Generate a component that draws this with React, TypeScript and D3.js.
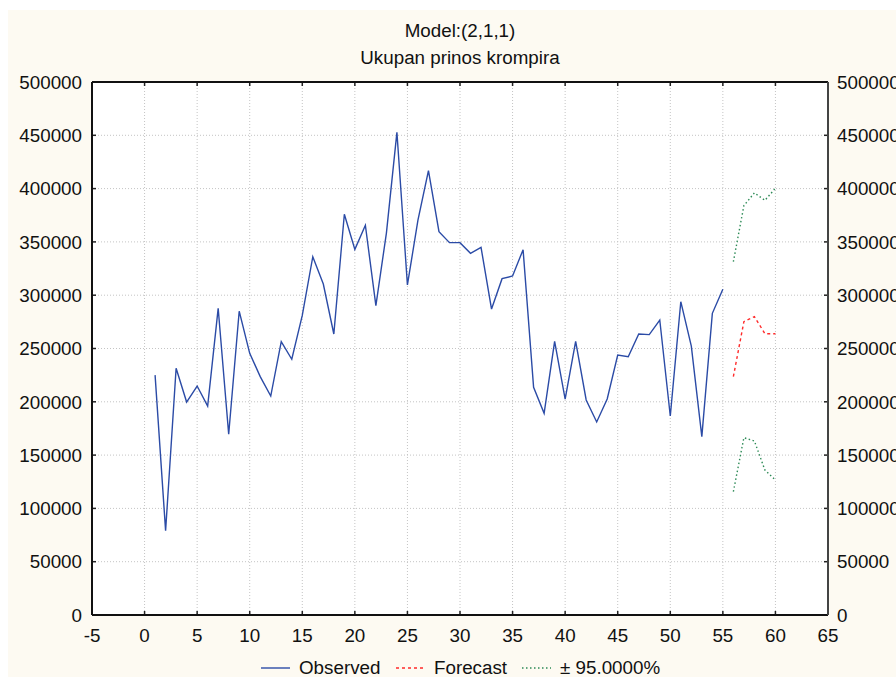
import React from 'react';
import * as d3 from 'd3';

// observed yield, periods 1..55
const observed = [
  225000, 79000, 231400, 199800, 214800, 196000, 287700, 169500, 285000, 245500,
  223600, 205400, 256400, 239900, 281000, 336100, 310500, 263600, 375900, 343000,
  365600, 290200, 358300, 452800, 309600, 370500, 416800, 359600, 349300, 349300,
  339300, 344900, 287000, 315500, 318000, 342700, 213600, 189200, 256700, 202600,
  256700, 201700, 181100, 202600, 243900, 242300, 263600, 263000, 276700, 186700,
  293900, 252300, 167300, 283000, 305500,
];
const forecastX = [56, 57, 58, 59, 60];
const forecast = [223600, 275200, 279900, 263900, 263900];
const upper95 = [331400, 384000, 396000, 389000, 400300];
const lower95 = [115700, 166300, 163200, 136000, 126600];

const xTicks = [-5, 0, 5, 10, 15, 20, 25, 30, 35, 40, 45, 50, 55, 60, 65];
const yTicks = [0, 50000, 100000, 150000, 200000, 250000, 300000, 350000, 400000, 450000, 500000];

const titleLines = ['Model:(2,1,1)', 'Ukupan prinos krompira'];
const legendItems = [
  { label: 'Observed', color: '#2b4ba6', dash: '', x: 261 },
  { label: 'Forecast', color: '#ff2a2a', dash: '3,3', x: 396 },
  { label: '± 95.0000%', color: '#2e8b57', dash: '1.5,2.5', x: 522 },
];

const W = 896;
const H = 677;
const left = 92, right = 828, top = 82, bottom = 615;
const font = '"Liberation Sans", Arial, sans-serif';
const fs = 18.8;

export default function App() {
  const x = d3.scaleLinear().domain([-5, 65]).range([left, right]);
  const y = d3.scaleLinear().domain([0, 500000]).range([bottom, top]);

  const line = d3
    .line<[number, number]>()
    .x((d) => x(d[0]))
    .y((d) => y(d[1]));

  const obsPts: [number, number][] = observed.map((v, i) => [i + 1, v]);
  const fcPts: [number, number][] = forecast.map((v, i) => [forecastX[i], v]);
  const upPts: [number, number][] = upper95.map((v, i) => [forecastX[i], v]);
  const loPts: [number, number][] = lower95.map((v, i) => [forecastX[i], v]);

  return (
    <svg
      width={W}
      height={H}
      style={{ position: 'absolute', left: 0, top: 0, fontFamily: font }}
    >
      <rect x={0} y={0} width={W} height={H} fill="#ffffff" />
      <rect x={8} y={10} width={W - 8} height={H - 10} fill="#fdfaf2" />
      <rect x={left} y={top} width={right - left} height={bottom - top} fill="#ffffff" />

      {/* grid */}
      {xTicks.slice(1, -1).map((t) => (
        <line key={'gx' + t} x1={x(t)} x2={x(t)} y1={top} y2={bottom}
          stroke="#c4c4c4" strokeWidth={1} strokeDasharray="1,2" />
      ))}
      {yTicks.slice(1, -1).map((t) => (
        <line key={'gy' + t} x1={left} x2={right} y1={y(t)} y2={y(t)}
          stroke="#c4c4c4" strokeWidth={1} strokeDasharray="1,2" />
      ))}

      {/* series */}
      <path d={line(obsPts) || ''} fill="none" stroke="#2b4ba6" strokeWidth={1.4} />
      <path d={line(fcPts) || ''} fill="none" stroke="#ff2a2a" strokeWidth={1.4} strokeDasharray="3,3" />
      <path d={line(upPts) || ''} fill="none" stroke="#2e8b57" strokeWidth={1.4} strokeDasharray="1.5,2.5" />
      <path d={line(loPts) || ''} fill="none" stroke="#2e8b57" strokeWidth={1.4} strokeDasharray="1.5,2.5" />

      {/* ticks (inside) */}
      {xTicks.map((t) => (
        <g key={'tx' + t}>
          <line x1={x(t)} x2={x(t)} y1={bottom} y2={bottom - 4} stroke="#222" strokeWidth={1.5} />
          <line x1={x(t)} x2={x(t)} y1={top} y2={top + 4} stroke="#222" strokeWidth={1.5} />
          <text x={x(t)} y={642} textAnchor="middle" fontSize={fs} fill="#111">{t}</text>
        </g>
      ))}
      {yTicks.map((t) => (
        <g key={'ty' + t}>
          <line x1={left} x2={left + 4} y1={y(t)} y2={y(t)} stroke="#222" strokeWidth={1.5} />
          <line x1={right} x2={right - 4} y1={y(t)} y2={y(t)} stroke="#222" strokeWidth={1.5} />
          <text x={82} y={y(t)} dy="0.36em" textAnchor="end" fontSize={fs} fill="#111">{t}</text>
          <text x={837} y={y(t)} dy="0.36em" textAnchor="start" fontSize={fs} fill="#111">{t}</text>
        </g>
      ))}

      {/* frame */}
      <line x1={left} x2={right} y1={top} y2={top} stroke="#111" strokeWidth={2} />
      <line x1={left} x2={right} y1={bottom} y2={bottom} stroke="#111" strokeWidth={2} />
      <line x1={left} x2={left} y1={top} y2={bottom} stroke="#111" strokeWidth={2} />
      <line x1={right} x2={right} y1={top} y2={bottom} stroke="#444" strokeWidth={2} />

      {/* title */}
      {titleLines.map((s, i) => (
        <text key={s} x={(left + right) / 2} y={37 + i * 27} textAnchor="middle" fontSize={fs} fill="#111">{s}</text>
      ))}

      {/* legend */}
      {legendItems.map((it) => (
        <g key={it.label}>
          <line x1={it.x} x2={it.x + 29} y1={668} y2={668} stroke={it.color}
            strokeWidth={1.4} strokeDasharray={it.dash || undefined} />
          <text x={it.x + 38} y={674} fontSize={fs} fill="#111">{it.label}</text>
        </g>
      ))}
    </svg>
  );
}
